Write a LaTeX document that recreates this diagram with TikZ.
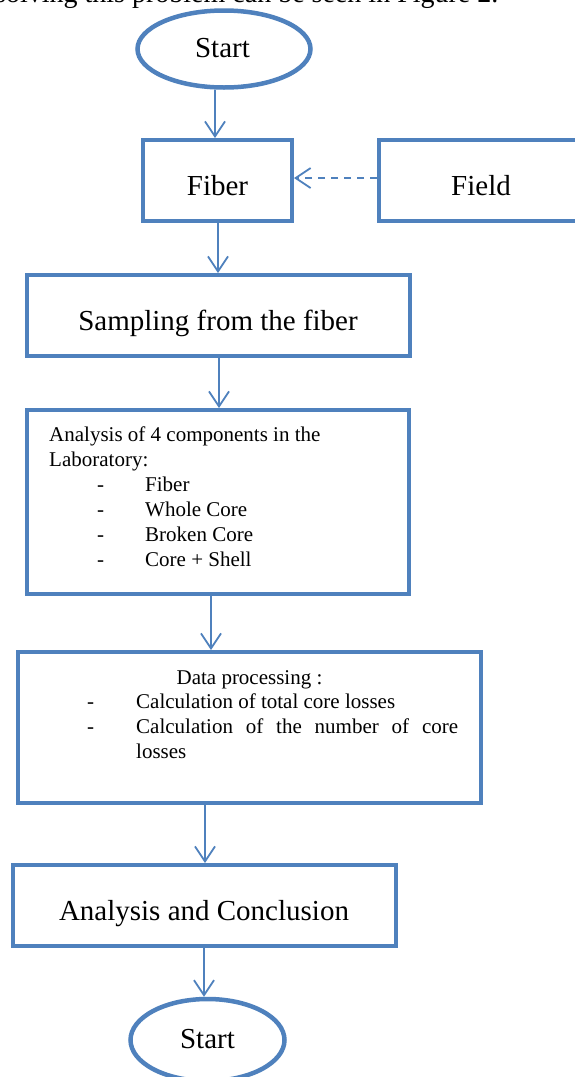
\documentclass[tikz,border=0pt]{standalone}
\usepackage{fontspec}
\setmainfont{Liberation Serif}
\usetikzlibrary{arrows.meta,shapes.geometric}
\definecolor{ofblue}{RGB}{79,129,189}
\begin{document}
\begin{tikzpicture}[x=1pt,y=-1pt,
  box/.style={draw=ofblue, line width=4pt, rectangle, inner sep=0pt},
  oval/.style={draw=ofblue, line width=4.5pt, ellipse, inner sep=0pt},
  big/.style={font=\fontsize{29}{34}\selectfont, inner sep=0pt, anchor=base},
  small/.style={font=\fontsize{21}{25}\selectfont, inner sep=0pt, anchor=base west},
  arr/.style={draw=ofblue, line width=1.8pt, -{Straight Barb[length=15pt,width=20pt]}},
]
\useasboundingbox (0,0) rectangle (574,1077);

% cut-off text above the figure
\node[font=\fontsize{28}{34}\selectfont, inner sep=0pt, anchor=base west] (intro) at (-5,2) {solving this problem can be seen in Figure 2.};

% Start
\node[oval, minimum width=173pt, minimum height=77pt] (start) at (224,49) {};
\node[big] (startt) at (222.5,57.5) {Start};

% Fiber and Field
\node[box, minimum width=149pt, minimum height=81pt] (fiber) at (217.5,180.5) {};
\node[big] (fibert) at (217.5,195) {Fiber};
\node[box, minimum width=204pt, minimum height=81pt] (field) at (481,180.5) {};
\node[big] (fieldt) at (481,195) {Field};

% Sampling
\node[box, minimum width=383pt, minimum height=81pt] (sampling) at (218.5,315.5) {};
\node[big] (samplingt) at (218,330) {Sampling from the fiber};

% Analysis of 4 components
\node[box, minimum width=382pt, minimum height=184pt] (analysis) at (218,502) {};
\node[small] (an1) at (49,441) {Analysis of 4 components in the};
\node[small] (an2) at (49,466) {Laboratory:};
\node[small] (and1) at (97,491) {-};
\node[small] (ani1) at (145,491) {Fiber};
\node[small] (and2) at (97,516) {-};
\node[small] (ani2) at (145,516) {Whole Core};
\node[small] (and3) at (97,541) {-};
\node[small] (ani3) at (145,541) {Broken Core};
\node[small] (and4) at (97,566) {-};
\node[small] (ani4) at (145,566) {Core + Shell};

% Data processing
\node[box, minimum width=463pt, minimum height=151pt] (data) at (249.5,727.5) {};
\node[small, anchor=base] (dp0) at (249.5,684) {Data processing :};
\node[small] (dpd1) at (87,708) {-};
\node[small] (dpi1) at (136,708) {Calculation of total core losses};
\node[small] (dpd2) at (87,733) {-};
\node[small] (dpi2) at (136,733) {\hbox to 322pt{Calculation\hfill of\hfill the\hfill number\hfill of\hfill core}};
\node[small] (dpi3) at (136,758) {losses};

% Analysis and Conclusion
\node[box, minimum width=383pt, minimum height=81pt] (concl) at (204.5,905.5) {};
\node[big] (conclt) at (204,920) {Analysis and Conclusion};

% End oval
\node[oval, minimum width=154pt, minimum height=82pt] (end) at (207.5,1040) {};
\node[big] (endt) at (207.5,1048) {Start};

% connectors
\draw[arr] (start.south -| 215,0) -- (fiber.north -| 215,0);
\draw[arr, dash pattern=on 7pt off 6pt] (field.west |- 0,178) -- (fiber.east |- 0,178);
\draw[arr] (fiber.south -| 218,0) -- (sampling.north -| 218,0);
\draw[arr] (sampling.south -| 219,0) -- (analysis.north -| 219,0);
\draw[arr] (analysis.south -| 211,0) -- (data.north -| 211,0);
\draw[arr] (data.south -| 205,0) -- (concl.north -| 205,0);
\draw[arr] (concl.south -| 204,0) -- (end.north -| 204,0);
\end{tikzpicture}
\end{document}
